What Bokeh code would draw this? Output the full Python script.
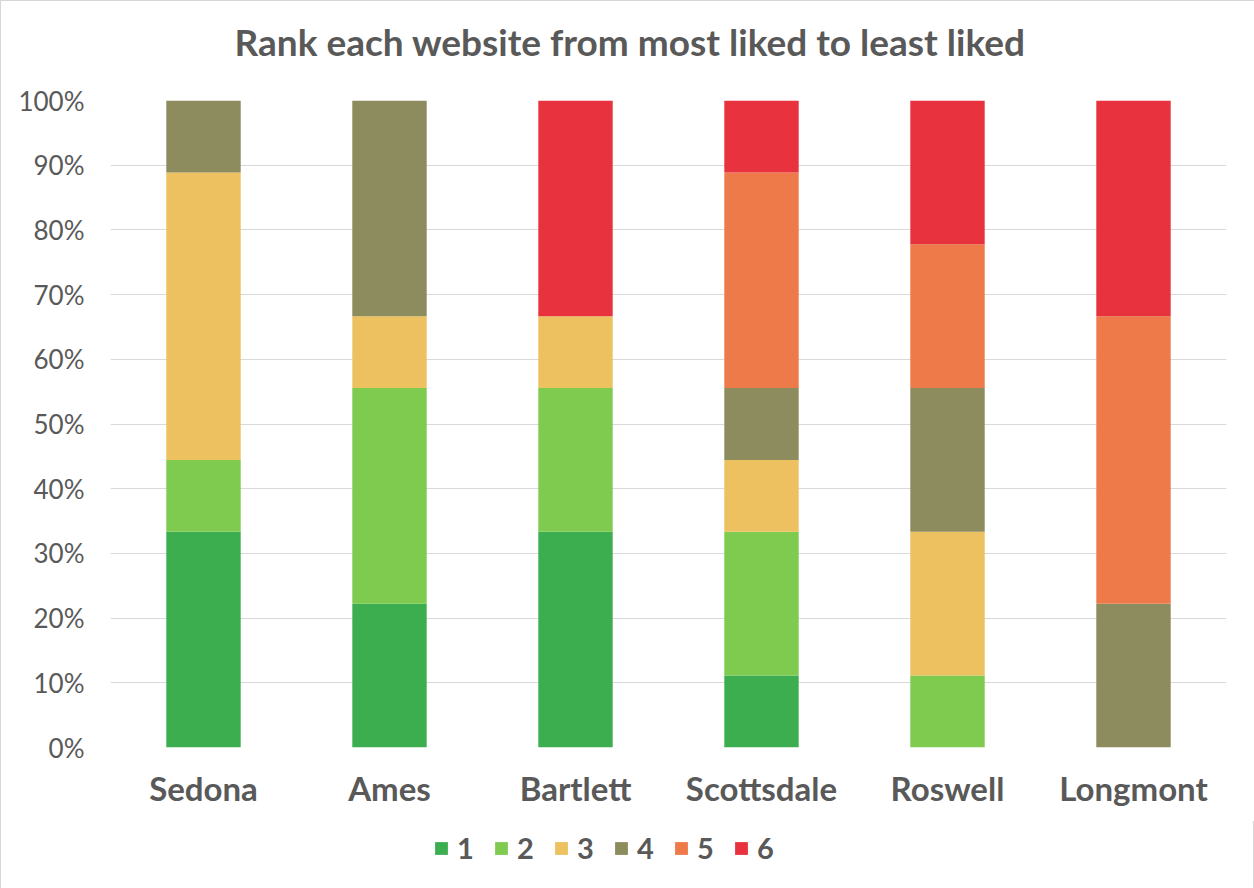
from bokeh.plotting import figure
from bokeh.models import (FixedTicker, NumeralTickFormatter, Legend, LegendItem,
                          ColumnDataSource, Title, Range1d)
from bokeh.layouts import column
from bokeh.embed import file_html
from bokeh.resources import INLINE

# Number of respondents giving each rank to each website (9 respondents)
sites = ["Sedona", "Ames", "Bartlett", "Scottsdale", "Roswell", "Longmont"]
rank_1 = [3, 2, 3, 1, 0, 0]
rank_2 = [1, 3, 2, 2, 1, 0]
rank_3 = [4, 1, 1, 1, 2, 0]
rank_4 = [1, 3, 0, 1, 2, 2]
rank_5 = [0, 0, 0, 3, 2, 4]
rank_6 = [0, 0, 3, 1, 2, 3]
rank_names = ["1", "2", "3", "4", "5", "6"]
colors = ["#3DAE50", "#7ECB50", "#EDC060", "#8C8C5E", "#EE7A4A", "#E8323E"]
y_ticks = [i / 10 for i in range(11)]

ranks = [rank_1, rank_2, rank_3, rank_4, rank_5, rank_6]
totals = [sum(r[i] for r in ranks) for i in range(len(sites))]
data = {"site": sites}
for name, counts in zip(rank_names, ranks):
    data[name] = [c / t for c, t in zip(counts, totals)]
source = ColumnDataSource(data)

GRAY = "#595959"
FONT = "Lato"
EDGE = "1px solid #d6d6d6"

p = figure(
    x_range=sites, y_range=(0, 1),
    frame_width=1114, frame_height=646,
    output_backend="svg", toolbar_location=None, title=None,
    min_border_left=109, min_border_right=31,
    min_border_top=99, min_border_bottom=75,
)
p.styles = {"border": EDGE, "border-bottom": "none", "box-sizing": "border-box"}

p.vbar_stack(rank_names, x="site", width=0.4, source=source,
             color=colors, line_color=None)

# thin spacer keeps the heading clear of the 100% line
p.add_layout(Title(text=" ", text_font_size="1px", standoff=34), "above")
p.add_layout(Title(
    text="Rank each website from most liked to least liked",
    align="left", offset=124, standoff=0,
    text_font=FONT, text_font_size="37px", text_font_style="bold",
    text_color=GRAY,
), "above")

p.outline_line_color = None
p.xgrid.grid_line_color = None
p.ygrid.grid_line_color = "#D9D9D9"
p.ygrid.ticker = FixedTicker(ticks=y_ticks)

p.yaxis.ticker = FixedTicker(ticks=y_ticks)
p.yaxis.formatter = NumeralTickFormatter(format="0%")
p.yaxis.axis_line_color = None
p.yaxis.major_tick_line_color = None
p.yaxis.minor_tick_line_color = None
p.yaxis.major_label_text_font = FONT
p.yaxis.major_label_text_font_size = "26px"
p.yaxis.major_label_text_color = GRAY
p.yaxis.major_label_standoff = 20

p.xaxis.axis_line_color = None
p.xaxis.major_tick_line_color = None
p.xaxis.major_label_text_font = FONT
p.xaxis.major_label_text_font_size = "33px"
p.xaxis.major_label_text_font_style = "bold"
p.xaxis.major_label_text_color = GRAY
p.xaxis.major_label_standoff = 14

# legend strip under the chart; its stacked bars lie outside the visible
# y range, so only the legend swatches show
leg = figure(
    width=1254, height=68, x_range=sites, y_range=Range1d(2, 3),
    output_backend="svg", toolbar_location=None,
    x_axis_location=None, y_axis_location=None,
    min_border=0,
)
leg.styles = {"border": EDGE, "border-top": "none", "box-sizing": "border-box"}
leg.outline_line_color = None
leg.xgrid.visible = False
leg.ygrid.visible = False

swatches = leg.vbar_stack(rank_names, x="site", width=0.4, source=source,
                          color=colors, line_color=None)
items = [LegendItem(label=n, renderers=[r]) for n, r in zip(rank_names, swatches)]

legend = Legend(
    items=items, orientation="horizontal", location=(323, 24),
    glyph_width=16, glyph_height=16, label_standoff=8, spacing=16,
    label_text_font=FONT, label_text_font_size="29px",
    label_text_font_style="bold", label_text_color=GRAY,
    border_line_color=None, background_fill_alpha=0,
    padding=0, margin=0,
)
leg.add_layout(legend)

layout = column(p, leg, spacing=0)
open("out.html", "w").write(file_html(layout, INLINE))
